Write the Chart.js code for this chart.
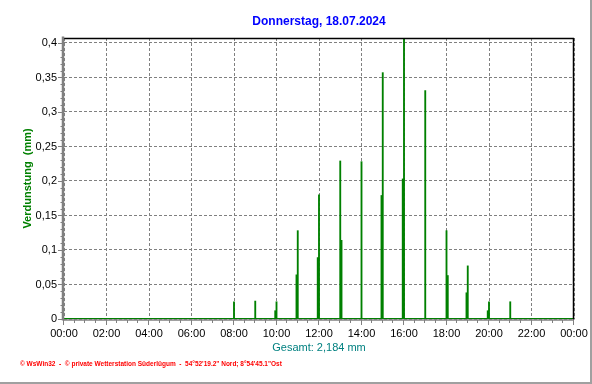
<!DOCTYPE html>
<html>
<head>
<meta charset="utf-8">
<script src="https://cdn.jsdelivr.net/npm/chart.js@4/dist/chart.umd.min.js"></script>
<style>
html,body{margin:0;padding:0;background:#fff;}
#wrap{position:relative;width:592px;height:384px;}
</style>
</head>
<body>
<div id="wrap"><canvas id="c" width="592" height="384"></canvas></div>
<script>
// ---- data (times in HH:MM, values in mm) ----
const chartTitle = "Donnerstag, 18.07.2024";
const yAxisTitle = "Verdunstung  (mm)";
const totalLabel = "Gesamt: 2,184 mm";
const footerText = "\u00a9 WsWin32  -  \u00a9 private Wetterstation S\u00fcderl\u00fcgum  -  54\u00b052'19.2\" Nord; 8\u00b054'45.1\"Ost";

const mainTimes  = ["08:00","09:00","10:00","11:00","12:00","13:00","14:00","15:00","16:00","17:00","18:00","19:00","20:00","21:00"];
const mainValues = [0.025, 0.026, 0.025, 0.128, 0.180, 0.229, 0.228, 0.357, 0.410, 0.331, 0.128, 0.077, 0.025, 0.025];

const subTimes  = ["09:57","10:57","11:57","13:03","14:57","15:57","18:03","18:57","19:57"];
const subValues = [0.012, 0.064, 0.089, 0.114, 0.179, 0.203, 0.063, 0.038, 0.012];

const yTickValues = [0, 0.05, 0.1, 0.15, 0.2, 0.25, 0.3, 0.35, 0.4];
const yTickLabels = ["0","0,05","0,1","0,15","0,2","0,25","0,3","0,35","0,4"];
const xTickLabels = ["00:00","02:00","04:00","06:00","08:00","10:00","12:00","14:00","16:00","18:00","20:00","22:00","00:00"];

const toMin = t => { const [h,m] = t.split(":").map(Number); return h*60+m; };
const mainData = mainTimes.map((t,i)=>({x:toMin(t), y:mainValues[i]}));
const subData  = subTimes.map((t,i)=>({x:toMin(t), y:subValues[i]}));

const GREEN = "#008000";
const GRID = "#808080";
const FONT = "'Liberation Sans', Arial, sans-serif";

const decor = {
  id: 'decor',
  beforeDatasetsDraw(chart) {
    const {ctx, chartArea:a} = chart;
    const y = chart.scales.y;
    ctx.save();
    ctx.strokeStyle = GREEN; ctx.lineWidth = 1;
    const y0 = Math.round(y.getPixelForValue(0)) - 0.5;
    ctx.beginPath(); ctx.moveTo(a.left, y0); ctx.lineTo(a.right, y0); ctx.stroke();
    ctx.restore();
  },
  afterDraw(chart) {
    const {ctx, chartArea:a} = chart;
    const x = chart.scales.x, y = chart.scales.y;
    ctx.save();
    // top and right frame (black)
    ctx.strokeStyle = "#000"; ctx.lineWidth = 1.5;
    ctx.beginPath();
    ctx.moveTo(a.left, a.top + 0.5); ctx.lineTo(a.right, a.top + 0.5);
    ctx.moveTo(a.right - 0.5, a.top); ctx.lineTo(a.right - 0.5, a.bottom + 1);
    ctx.stroke();
    // left axis (gray, thick)
    ctx.strokeStyle = GRID; ctx.lineWidth = 2.5;
    ctx.beginPath(); ctx.moveTo(a.left - 1, a.top - 1.5); ctx.lineTo(a.left - 1, a.bottom + 1.5); ctx.stroke();
    // bottom axis (gray)
    ctx.lineWidth = 1.5;
    ctx.beginPath(); ctx.moveTo(a.left - 1, a.bottom + 1); ctx.lineTo(a.right, a.bottom + 1); ctx.stroke();
    // y ticks
    ctx.lineWidth = 1;
    for (let v = 0; v <= 40; v++) {
      const py = Math.round(y.getPixelForValue(v / 100)) + 0.5;
      const major = v % 5 === 0;
      ctx.beginPath(); ctx.moveTo(a.left - (major ? 6 : 3.5), py); ctx.lineTo(a.left - 1, py); ctx.stroke();
    }
    // x ticks (every 30 min)
    for (let m = 0; m <= 1440; m += 30) {
      const px = Math.round(x.getPixelForValue(m)) - 0.5;
      const major = m % 120 === 0;
      ctx.beginPath(); ctx.moveTo(px, a.bottom + 1); ctx.lineTo(px, a.bottom + (major ? 6 : 4)); ctx.stroke();
    }
    // title
    ctx.fillStyle = "#0000ff";
    ctx.font = "bold 12px " + FONT;
    ctx.textAlign = "center"; ctx.textBaseline = "middle";
    ctx.fillText(chartTitle, (a.left + a.right) / 2, 22);
    // footer
    ctx.fillStyle = "#ff0000";
    ctx.font = "bold 6.5px " + FONT;
    ctx.textAlign = "left";
    ctx.fillText(footerText, 20, 364);
    // outer panel border (right/bottom)
    ctx.strokeStyle = "#a0a0a0"; ctx.lineWidth = 2;
    ctx.beginPath();
    ctx.moveTo(591, 0); ctx.lineTo(591, 384);
    ctx.moveTo(0, 383); ctx.lineTo(592, 383);
    ctx.stroke();
    ctx.restore();
  }
};

new Chart(document.getElementById('c'), {
  type: 'bar',
  data: {
    datasets: [
      { data: mainData, backgroundColor: GREEN, barThickness: 1.2, grouped: false, order: 1 },
      { data: subData,  backgroundColor: GREEN, barThickness: 1.6, grouped: false, order: 2 }
    ]
  },
  options: {
    responsive: false,
    animation: false,
    devicePixelRatio: 1,
    layout: { padding: { left: 0, right: 18, top: 38, bottom: 0 } },
    plugins: { legend: { display: false }, tooltip: { enabled: false }, title: { display: false } },
    scales: {
      x: {
        type: 'linear', min: 0, max: 1440, offset: false,
        afterFit: s => { s.height = 65; s.paddingLeft = 0; s.paddingRight = 0; },
        afterBuildTicks: s => { s.ticks = xTickLabels.map((l,i)=>({value: i*120})); },
        ticks: {
          autoSkip: false, maxRotation: 0, padding: 8, color: "#000",
          font: { family: FONT, size: 11 },
          callback: (v, i) => xTickLabels[i]
        },
        grid: { color: GRID, lineWidth: 1, drawTicks: false, offset: false },
        border: { display: false, dash: [3, 2] },
        title: { display: true, text: totalLabel, color: "#008080", font: { family: FONT, size: 11 }, padding: { top: 0, bottom: 29 } }
      },
      y: {
        min: 0, max: 0.4072,
        afterFit: s => { s.width = 64; s.paddingTop = 0; s.paddingBottom = 0; },
        afterBuildTicks: s => { s.ticks = yTickValues.map(v=>({value: v})); },
        ticks: {
          autoSkip: false, padding: 7, color: "#000",
          font: { family: FONT, size: 11 },
          callback: (v, i) => yTickLabels[i]
        },
        grid: { color: GRID, lineWidth: 1, drawTicks: false },
        border: { display: false, dash: [3, 2] },
        title: { display: true, text: yAxisTitle, color: GREEN, font: { family: FONT, size: 11, weight: 'bold' }, padding: { top: 21, bottom: 0 } }
      }
    }
  },
  plugins: [decor]
});
</script>
</body>
</html>
